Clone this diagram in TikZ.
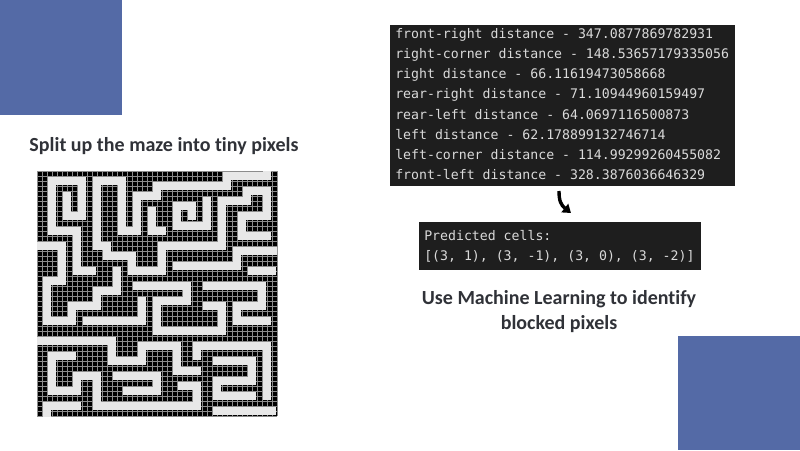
\documentclass[tikz,border=0pt]{standalone}
\usepackage{fontspec}
\setmainfont{Carlito}[Ligatures=NoCommon]
\newfontfamily\codefont{DejaVu Sans Mono}
\usetikzlibrary{arrows.meta}
\definecolor{slideblue}{RGB}{84,106,166}
\definecolor{termbg}{RGB}{30,30,30}
\definecolor{termfg}{RGB}{218,218,218}
\definecolor{titlegray}{RGB}{48,50,56}
\definecolor{mazegrid}{RGB}{140,140,140}
\definecolor{mazepath}{RGB}{232,232,232}
\tikzset{
  titletext/.style={text=titlegray, font=\fontsize{15}{18.75}\selectfont\bfseries, inner sep=0pt, align=center},
  codetext/.style={text=termfg, font=\codefont\fontsize{9.9}{12}\selectfont, inner sep=0pt, anchor=west},
  termbox/.style={fill=termbg, draw=none},
  corridor/.style={mazepath, line width=6.6pt, line cap=rect, line join=miter},
}
\begin{document}
\begin{tikzpicture}[x=0.75pt, y=-0.75pt]
\useasboundingbox (0,0) rectangle (800,450);
\fill[white] (0,0) rectangle (800,450);
% blue squares
\fill[slideblue] (0,0) rectangle (122,115);
\fill[slideblue] (678,336) rectangle (800,450);
% maze
\begin{scope}[shift={(37,171)}, x=3.75pt, y=-3.75pt]
  \fill[black] (0,0) rectangle (48,49);
  \foreach \i in {0,...,48} \draw[mazegrid, line width=0.5pt] (\i,0) -- (\i,49);
  \foreach \j in {0,...,49} \draw[mazegrid, line width=0.5pt] (0,\j) -- (48,\j);
  \clip (0,0) rectangle (48,49);
  \draw[corridor] (3,12) -- (3,2) -- (9,2) -- (9,9) -- (6,9) -- (6,5);
  \draw[corridor] (3,12) -- (8,12) -- (8,20) -- (11,20);
  \draw[corridor] (19,17) -- (14,17) -- (14,15) -- (12,15) -- (12,2) -- (17,2) -- (17,12) -- (20,12) -- (20,5) -- (24,5) -- (24,3) -- (38,3) -- (38,1) -- (46,1) -- (46,-1);
  \draw[corridor] (31,9) -- (31,7) -- (28,7) -- (28,11) -- (34,11) -- (34,6);
  \draw[corridor] (37,15) -- (37,6) -- (42,6) -- (42,4) -- (46,4) -- (46,9) -- (41,9) -- (41,13) -- (46,13);
  \draw[corridor] (19,17) -- (19,20) -- (25,20) -- (25,15) -- (37,15);
  \draw[corridor] (23,8) -- (23,12) -- (25,12);
  \draw[corridor] (-1,15) -- (5,15) -- (5,22) -- (2,22) -- (2,30) -- (7,30) -- (7,27) -- (12,27) -- (12,24) -- (16,24) -- (16,20);
  \draw[corridor] (20,23) -- (30,23) -- (30,26) -- (24,26) -- (24,32) -- (37,32) -- (37,27) -- (34,27);
  \draw[corridor] (28,19) -- (40,19) -- (40,16) -- (48,16);
  \draw[corridor] (43,20) -- (47,20);
  \draw[corridor] (34,23) -- (45,23) -- (45,27) -- (40,27) -- (40,30) -- (46,30);
  \draw[corridor] (10,30) -- (21,30) -- (21,26);
  \draw[corridor] (-1,34) -- (15,34) -- (15,38) -- (21,38) -- (21,35) -- (28,35) -- (28,40) -- (32,40);
  \draw[corridor] (32,37) -- (32,35) -- (46,35) -- (46,45);
  \draw[corridor] (36,38) -- (43,38) -- (43,42) -- (36,42) -- (36,45) -- (43,45);
  \draw[corridor] (7,37) -- (3,37) -- (3,44) -- (8,44) -- (8,41) -- (12,41) -- (12,47) -- (26,47);
  \draw[corridor] (2,50) -- (2,47) -- (8,47);
  \draw[corridor] (18,44) -- (24,44) -- (24,41) -- (16,41);
  \draw[corridor] (26,47) -- (32,47) -- (32,43) -- (29,43);
  \draw[corridor] (36,48) -- (47,48);
\end{scope}
% titles
\node[titletext] (mazetitle) at (164,146) {Split up the maze into tiny pixels};
\node[titletext] (mltitle) at (559,312) {Use Machine Learning to identify\\blocked pixels};
% terminal 1
\node[termbox, minimum width=345*0.75pt, minimum height=161*0.75pt, anchor=north west, inner sep=0pt] (term1) at (390,25) {};
\node[codetext] (l1) at (395,35) {front-right distance - 347.0877869782931};
\node[codetext] (l2) at (395,55) {right-corner distance - 148.53657179335056};
\node[codetext] (l3) at (395,75) {right distance - 66.11619473058668};
\node[codetext] (l4) at (395,95) {rear-right distance - 71.10944960159497};
\node[codetext] (l5) at (395,115) {rear-left distance - 64.0697116500873};
\node[codetext] (l6) at (395,135) {left distance - 62.178899132746714};
\node[codetext] (l7) at (395,155) {left-corner distance - 114.99299260455082};
\node[codetext] (l8) at (395,175) {front-left distance - 328.3876036646329};
% terminal 2
\node[termbox, minimum width=282*0.75pt, minimum height=48*0.75pt, anchor=north west, inner sep=0pt] (term2) at (419,222) {};
\node[codetext] (p1) at (424,236) {Predicted cells:};
\node[codetext] (p2) at (424,256) {[(3, 1), (3, -1), (3, 0), (3, -2)]};
% arrow
\coordinate (arrowstart) at (559,191);
\coordinate (arrowtip) at (571,213);
\draw[line width=3.4pt*0.75, -{Triangle[length=6pt, width=8pt]}] (arrowstart) .. controls (559,201) and (561,205) .. (arrowtip);
\end{tikzpicture}
\end{document}
